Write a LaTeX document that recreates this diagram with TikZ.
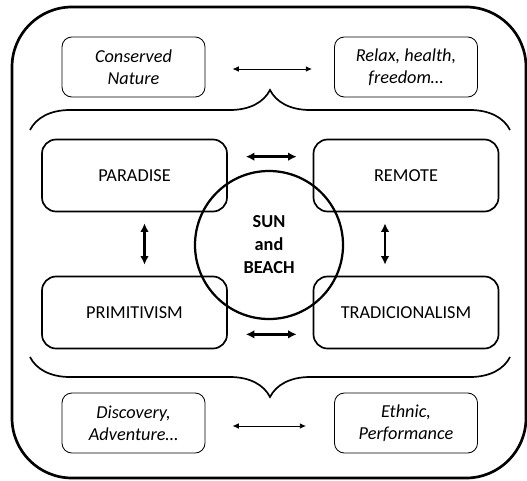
\documentclass[tikz,border=0pt]{standalone}
\usepackage{fontspec}
\setmainfont{Carlito}
\usetikzlibrary{arrows.meta,decorations.pathreplacing}

\begin{document}
\begin{tikzpicture}[every node/.style={font=\fontsize{13}{15.6}\selectfont, align=center},
	ibox/.style={draw, line width=0.6pt, rounded corners=7pt, minimum width=3.575cm, minimum height=1.5cm, font=\fontsize{13}{15.6}\selectfont\itshape},
	mbox/.style={draw, line width=1.2pt, rounded corners=10pt, minimum width=4.625cm, minimum height=1.8cm},
	thinarr/.style={{Latex[length=4.5pt,width=4pt]}-{Latex[length=4.5pt,width=4pt]}, line width=0.7pt},
	thickarr/.style={{Latex[length=6pt,width=6pt]}-{Latex[length=6pt,width=6pt]}, line width=1.8pt},
	bracket/.style={decorate, decoration={brace, amplitude=1cm}, line width=1.2pt}]
	\useasboundingbox (0,0) rectangle (13.175,12);
	\begin{scope}
		\clip (0,0) rectangle (13.175,12);
		\draw[line width=1.9pt, rounded corners=1.5cm] (0.3,0.05) rectangle (13.15,11.825);
	\end{scope}
	\node[ibox] (cons) at (3.3375,10.325) {Conserved\\Nature};
	\node[ibox] (relax) at (10.15,10.325) {Relax, health,\\freedom…};
	\node[mbox] (par) at (3.3625,7.6125) {PARADISE};
	\node[mbox] (rem) at (10.15,7.6125) {REMOTE};
	\node[mbox] (prim) at (3.3625,4.1875) {PRIMITIVISM};
	\node[mbox] (trad) at (10.15,4.1875) {TRADICIONALISM};
	\node[circle, draw, line width=1.6pt, minimum size=3.7cm, font=\fontsize{13}{16.4}\selectfont\bfseries] (sun) at (6.725,5.875) {SUN\\and\\BEACH};
	\node[ibox] (disc) at (3.3375,1.425) {Discovery,\\Adventure…};
	\node[ibox] (eth) at (10.15,1.425) {Ethnic,\\Performance};
	\coordinate (bl1) at (0.75,8.75);
	\coordinate (br1) at (12.75,8.75);
	\coordinate (bl2) at (0.75,3.075);
	\coordinate (br2) at (12.75,3.075);
	\draw[bracket] (bl1) -- (br1);
	\draw[bracket] (br2) -- (bl2);
	\draw[thinarr, shorten <=0.675cm, shorten >=0.55cm] ([yshift=-0.05cm]cons.east) -- ([yshift=-0.05cm]relax.west);
	\draw[thinarr, shorten <=0.675cm, shorten >=0.7cm] ([yshift=-0.075cm]disc.east) -- ([yshift=-0.075cm]eth.west);
	\draw[thickarr, shorten <=0.45cm, shorten >=0.4cm] ([yshift=-0.45cm]par.north east) -- ([yshift=-0.45cm]rem.north west);
	\draw[thickarr, shorten <=0.45cm, shorten >=0.4cm] ([yshift=0.375cm]prim.south east) -- ([yshift=0.375cm]trad.south west);
	\draw[thickarr, shorten <=0.275cm, shorten >=0.275cm] ([xshift=0.25cm]par.south) -- ([xshift=0.25cm]prim.north);
	\draw[thickarr, shorten <=0.275cm, shorten >=0.275cm] ([xshift=-0.525cm]rem.south) -- ([xshift=-0.525cm]trad.north);
\end{tikzpicture}
\end{document}
